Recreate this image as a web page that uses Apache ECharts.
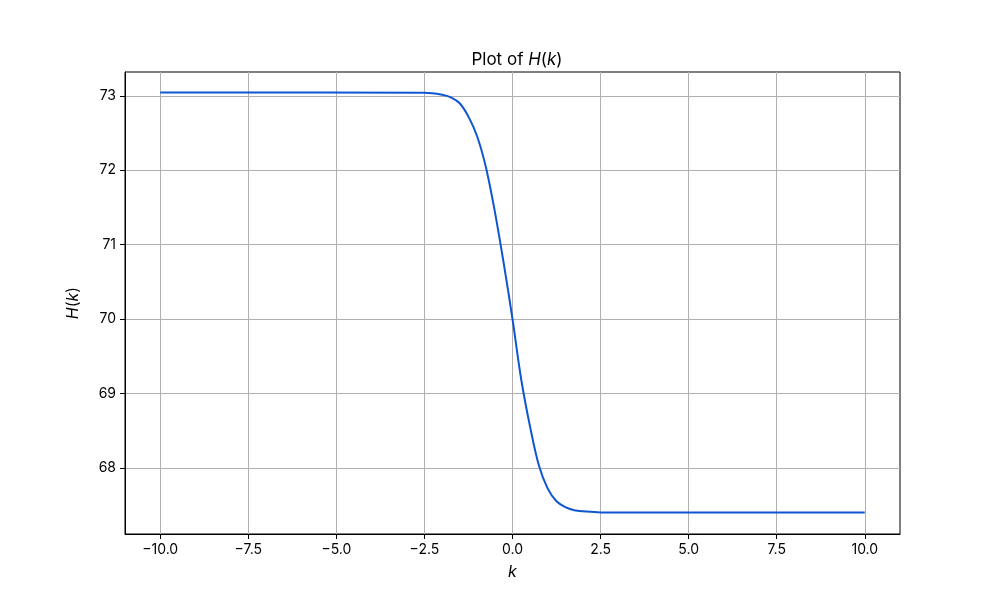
<!DOCTYPE html>
<html>
<head>
<meta charset="utf-8">
<script src="https://cdn.jsdelivr.net/npm/echarts@6/dist/echarts.min.js"></script>
<style>html,body{margin:0;padding:0;background:#fff}#c{width:1000px;height:600px}</style>
</head>
<body>
<div id="c"></div>
<script>
var kValues = [-10, -2.5, -2.0, -1.75, -1.5, -1.25, -1.0, -0.75, -0.5, -0.25, 0, 0.25, 0.5, 0.75, 1.0, 1.25, 1.5, 1.75, 2.0, 2.5, 10];
var hValues = [73.045, 73.04, 73.015, 72.98, 72.90, 72.72, 72.45, 72.03, 71.44, 70.75, 70.0, 69.18, 68.55, 68.03, 67.72, 67.55, 67.47, 67.43, 67.415, 67.40, 67.40];
var xTicks = [-10, -7.5, -5, -2.5, 0, 2.5, 5, 7.5, 10];
var yTicks = [68, 69, 70, 71, 72, 73];

var data = kValues.map(function (k, i) { return [k, hValues[i]]; });
var FONT = 'Inter, "DejaVu Sans", sans-serif';
var chart = echarts.init(document.getElementById('c'), null, {renderer: 'canvas'});
chart.setOption({
  animation: false,
  title: {
    text: 'Plot of {i|H}({i|k})',
    left: 512, top: 46, textAlign: 'center',
    textStyle: {
      fontFamily: FONT, fontSize: 17, fontWeight: 'normal', color: '#000',
      rich: { i: { fontStyle: 'italic', fontFamily: FONT, fontSize: 17, color: '#000' } }
    }
  },
  grid: { left: 125, right: 100, top: 72, bottom: 66, show: true, borderColor: '#000', borderWidth: 1, backgroundColor: 'transparent' },
  xAxis: {
    type: 'value', min: -11, max: 11,
    name: 'k', nameLocation: 'middle', nameGap: 30,
    nameTextStyle: { fontFamily: FONT, fontSize: 16, fontStyle: 'italic', color: '#000' },
    axisLine: { show: true, onZero: false, lineStyle: { color: '#000', width: 1 } },
    axisTick: { show: true, length: 5, customValues: xTicks, lineStyle: { color: '#000' } },
    axisLabel: { customValues: xTicks, margin: 9, fontFamily: FONT, fontSize: 14, color: '#000',
      formatter: function (v) { return (v < 0 ? '\u2212' : '') + Math.abs(v).toFixed(1); } },
    splitLine: { show: true, customValues: xTicks, lineStyle: { color: '#b0b0b0', width: 1 } }
  },
  yAxis: {
    type: 'value', min: 67.11, max: 73.32,
    name: '{i|H}({i|k})', nameLocation: 'middle', nameGap: 44,
    nameTextStyle: { fontFamily: FONT, fontSize: 16, color: '#000', rich: { i: { fontStyle: 'italic', fontFamily: FONT, fontSize: 16 } } },
    axisLine: { show: true, onZero: false, lineStyle: { color: '#000', width: 1 } },
    axisTick: { show: true, length: 5, customValues: yTicks, lineStyle: { color: '#000' } },
    axisLabel: { customValues: yTicks, margin: 9, fontFamily: FONT, fontSize: 14, color: '#000' },
    splitLine: { show: true, customValues: yTicks, lineStyle: { color: '#b0b0b0', width: 1 } }
  },
  series: [{
    type: 'line', data: data, showSymbol: false, smooth: 0.35,
    lineStyle: { color: '#0f56d2', width: 2 }, clip: true
  }]
});
</script>
</body>
</html>
